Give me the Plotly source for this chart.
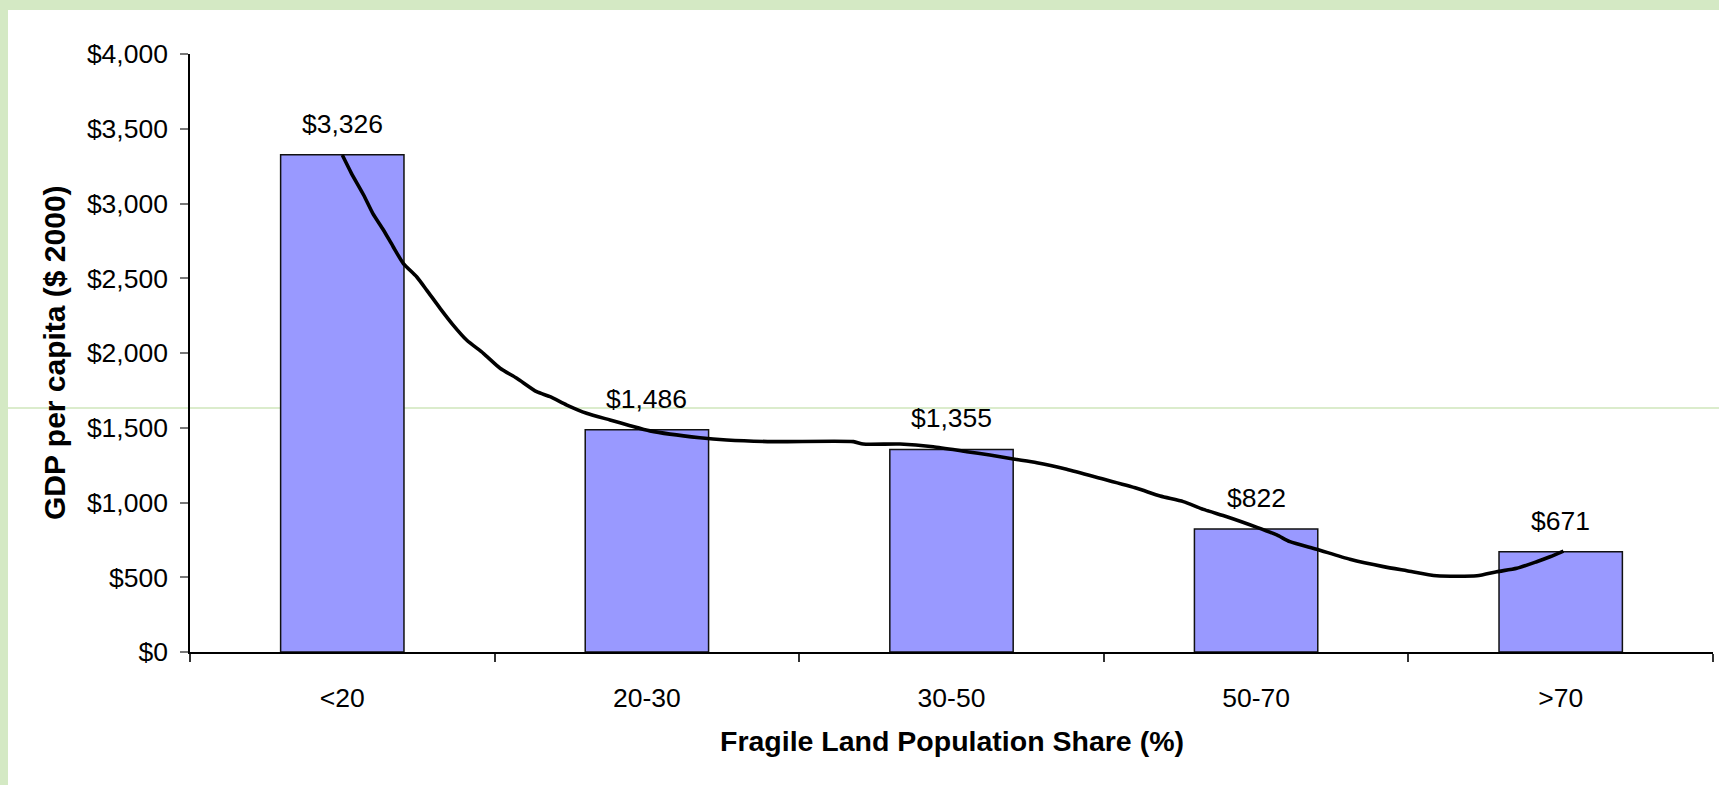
import plotly.graph_objects as go

# ---- data ----
categories = ["<20", "20-30", "30-50", "50-70", ">70"]
gdp_per_capita = [3326, 1486, 1355, 822, 671]
y_tick_values = [0, 500, 1000, 1500, 2000, 2500, 3000, 3500, 4000]
y_tick_labels = ["$0", "$500", "$1,000", "$1,500", "$2,000", "$2,500", "$3,000", "$3,500", "$4,000"]

# smoothed trend curve (x in category-index units)
curve_x = [0.00, 0.03, 0.07, 0.10, 0.135, 0.167, 0.20, 0.244, 0.277, 0.321, 0.364, 0.408,
           0.463, 0.518, 0.573, 0.638, 0.682, 0.737, 0.802, 0.879, 0.945, 1.01, 1.174,
           1.262, 1.415, 1.678, 1.71, 1.831, 1.94, 2.05, 2.126, 2.203, 2.28, 2.378, 2.488,
           2.608, 2.685, 2.761, 2.827, 2.904, 3.003, 3.068, 3.111, 3.199, 3.308, 3.418,
           3.495, 3.593, 3.725, 3.79, 3.856, 3.921, 3.965, 4.009]
curve_y = [3324, 3202, 3057, 2934, 2823, 2711, 2600, 2510, 2421, 2299, 2187, 2087,
           1998, 1898, 1831, 1741, 1708, 1652, 1597, 1552, 1514, 1479, 1433,
           1418, 1407, 1407, 1391, 1391, 1373, 1340, 1318, 1291, 1266, 1222, 1162,
           1095, 1043, 1006, 954, 905, 834, 783, 738, 687, 620, 571,
           544, 510, 510, 537, 560, 604, 637, 675]

x_title = "Fragile Land Population Share (%)"
y_title = "GDP per capita ($ 2000)"

# ---- layout geometry ----
W, H = 1719, 785
L, R, T, B = 190, 6, 54, 133
PW, PH = W - L - R, H - T - B


def pxx(x):
    return (x - L) / PW


def pxy(y):
    return (H - B - y) / PH


FONT = "Liberation Sans, Arial, sans-serif"
GREEN = "#d4e9c4"

xs = list(range(len(categories)))

fig = go.Figure()
fig.add_trace(go.Bar(
    x=xs, y=gdp_per_capita, width=0.405,
    marker=dict(color="#9999ff", line=dict(color="#111111", width=1.5)),
    hoverinfo="skip", showlegend=False,
))
fig.add_trace(go.Scatter(
    x=curve_x, y=curve_y, mode="lines",
    line=dict(color="black", width=3.6, shape="spline", smoothing=0.6),
    hoverinfo="skip", showlegend=False,
))

annotations = []
for xi, v in zip(xs, gdp_per_capita):
    annotations.append(dict(
        x=xi, y=v, xref="x", yref="y", text=f"${v:,}", showarrow=False,
        yanchor="bottom", xanchor="center", yshift=14,
        font=dict(family=FONT, size=26.5, color="black"),
    ))
annotations.append(dict(
    x=0.5, y=pxy(741), xref="paper", yref="paper", text=f"<b>{x_title}</b>",
    showarrow=False, xanchor="center", yanchor="middle",
    font=dict(family=FONT, size=28.5, color="black"),
))
annotations.append(dict(
    x=pxx(54), y=0.5, xref="paper", yref="paper", text=f"<b>{y_title}</b>",
    showarrow=False, xanchor="center", yanchor="middle", textangle=-90,
    font=dict(family=FONT, size=30, color="black"),
))

shapes = [
    # patterned green frame (top and left bands)
    dict(type="rect", xref="paper", yref="paper", x0=pxx(0), x1=pxx(W), y0=pxy(10), y1=pxy(0),
         fillcolor=GREEN, line=dict(width=0), layer="below"),
    dict(type="rect", xref="paper", yref="paper", x0=pxx(0), x1=pxx(8), y0=pxy(H), y1=pxy(0),
         fillcolor=GREEN, line=dict(width=0), layer="below"),
    # faint horizontal guide line
    dict(type="line", xref="paper", yref="paper", x0=pxx(8), x1=pxx(W), y0=pxy(408), y1=pxy(408),
         line=dict(color="#cfe6bb", width=1.5), layer="below"),
]

fig.update_layout(
    width=W, height=H,
    margin=dict(l=L, r=R, t=T, b=B, pad=0),
    paper_bgcolor="white", plot_bgcolor="rgba(0,0,0,0)",
    font=dict(family=FONT, size=26, color="black"),
    bargap=0.5,
    annotations=annotations,
    shapes=shapes,
    xaxis=dict(
        range=[-0.5, 4.5], tickmode="array", tickvals=xs, ticktext=categories,
        ticks="", showgrid=False, zeroline=False,
        showline=True, linecolor="black", linewidth=1.5,
        tickfont=dict(family=FONT, size=26.5, color="black"),
        ticklabelstandoff=21,
        minor=dict(tickmode="array", tickvals=[-0.5, 0.5, 1.5, 2.5, 3.5, 4.5],
                   ticks="outside", ticklen=8, tickcolor="#333333", tickwidth=1.5, showgrid=False),
    ),
    yaxis=dict(
        range=[0, 4000], tickmode="array", tickvals=y_tick_values, ticktext=y_tick_labels,
        ticks="outside", ticklen=8, tickcolor="#777777", tickwidth=1.5,
        showgrid=False, zeroline=False,
        showline=True, linecolor="black", linewidth=1.5,
        tickfont=dict(family=FONT, size=26.5, color="black"),
        ticklabelstandoff=7,
    ),
)

fig.write_html("out.html")
